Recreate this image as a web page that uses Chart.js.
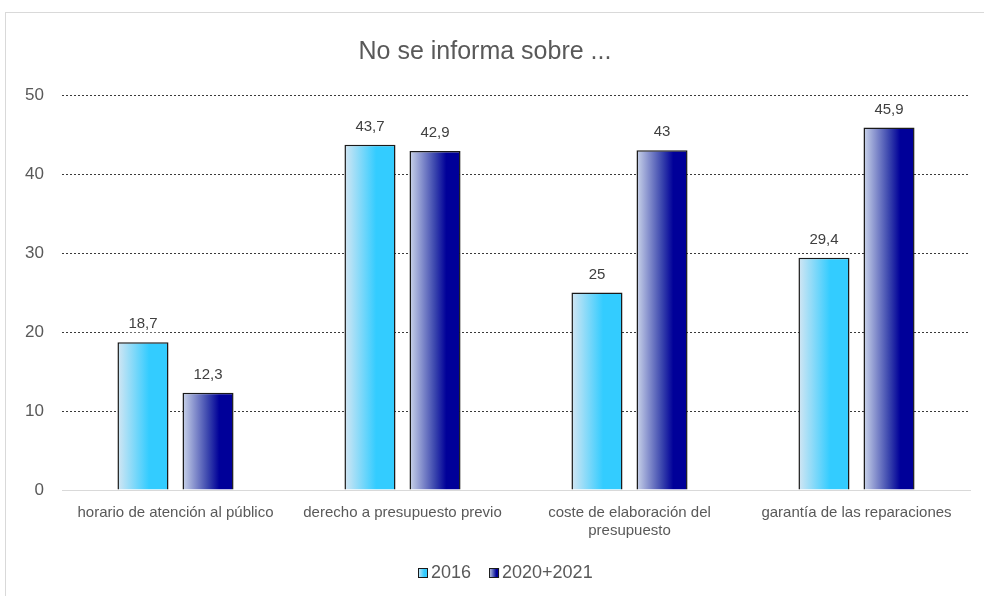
<!DOCTYPE html>
<html>
<head>
<meta charset="utf-8">
<script src="https://cdn.jsdelivr.net/npm/chart.js@4"></script>
<style>
  body { margin: 0; background: #fff; }
  #frame { position: absolute; left: 5px; top: 12px; width: 1000px; height: 600px; border: 1px solid #d9d9d9; }
  #wrap { position: absolute; left: 0; top: 0; width: 984px; height: 596px; }
</style>
</head>
<body>
<div id="frame"></div>
<div id="wrap"><canvas id="chart" width="984" height="596"></canvas></div>
<script>
const categories = [
    'horario de atención al público',
    'derecho a presupuesto previo',
    ['coste de elaboración del', 'presupuesto'],
    'garantía de las reparaciones'
];
const seriesNames = ['2016', '2020+2021'];
const values2016 = [18.7, 43.7, 25, 29.4];
const values2021 = [12.3, 42.9, 43, 45.9];
const yTicks = [0, 10, 20, 30, 40, 50];

const FONT = '"Liberation Sans", Arial, sans-serif';

// gradient stops per series: light left -> solid right
const gradients = [
    [['#d4e6f3', 0], ['#33ccff', 0.62], ['#33ccff', 1]],
    [['#cbd5ea', 0], ['#3a45ad', 0.5], ['#000099', 0.72], ['#000099', 1]]
];
const solidColors = ['#33ccff', '#000099'];

function makeGradient(ctx, x0, x1, di) {
    const g = ctx.createLinearGradient(x0, 0, x1, 0);
    gradients[di].forEach(s => g.addColorStop(s[1], s[0]));
    return g;
}

// backgroundColor is scriptable so every bar owns its options object,
// then each one gets its own gradient here
const gradientBars = {
    id: 'gradientBars',
    beforeDatasetsDraw(chart) {
        chart.data.datasets.forEach((ds, di) => {
            chart.getDatasetMeta(di).data.forEach(bar => {
                bar.options.backgroundColor = makeGradient(chart.ctx, bar.x - bar.width / 2, bar.x + bar.width / 2, di);
            });
        });
    }
};

const valueLabels = {
    id: 'valueLabels',
    afterDatasetsDraw(chart) {
        const ctx = chart.ctx;
        ctx.save();
        ctx.font = '15px ' + FONT;
        ctx.textAlign = 'center';
        ctx.textBaseline = 'middle';
        chart.data.datasets.forEach((ds, di) => {
            chart.getDatasetMeta(di).data.forEach((bar, i) => {
                const txt = String(ds.data[i]).replace('.', ',');
                const y = bar.y - 18;
                const w = ctx.measureText(txt).width;
                ctx.fillStyle = '#fff';
                ctx.fillRect(bar.x - w / 2 - 3, y - 8, w + 6, 16);
                ctx.fillStyle = '#404040';
                ctx.fillText(txt, bar.x, y);
            });
        });
        ctx.restore();
    }
};

// small legend at the bottom, swatches with the same gradients
const bottomLegend = {
    id: 'bottomLegend',
    afterDraw(chart) {
        const ctx = chart.ctx;
        ctx.save();
        ctx.font = '18px ' + FONT;
        ctx.textBaseline = 'middle';
        ctx.textAlign = 'left';
        const box = 10, gapText = 3, gapItem = 18, cy = 573;
        const widths = seriesNames.map(n => box + gapText + ctx.measureText(n).width);
        const total = widths.reduce((a, b) => a + b, 0) + gapItem * (seriesNames.length - 1);
        let x = Math.round(505 - total / 2);
        seriesNames.forEach((name, di) => {
            ctx.fillStyle = makeGradient(ctx, x, x + box, di);
            ctx.fillRect(x, cy - box / 2, box, box);
            ctx.strokeStyle = '#1a1a1a';
            ctx.lineWidth = 1;
            ctx.strokeRect(x + 0.5, cy - box / 2 + 0.5, box - 1, box - 1);
            ctx.fillStyle = '#595959';
            ctx.fillText(name, x + box + gapText, cy);
            x += widths[di] + gapItem;
        });
        ctx.restore();
    }
};

new Chart(document.getElementById('chart'), {
    type: 'bar',
    data: {
        labels: categories,
        datasets: [
            { label: seriesNames[0], data: values2016, backgroundColor: c => solidColors[0], borderColor: '#1a1a1a', borderWidth: 1.5, borderSkipped: 'bottom' },
            { label: seriesNames[1], data: values2021, backgroundColor: c => solidColors[1], borderColor: '#1a1a1a', borderWidth: 1.5, borderSkipped: 'bottom' }
        ]
    },
    options: {
        responsive: false,
        animation: false,
        categoryPercentage: 0.573,
        barPercentage: 0.785,
        layout: { padding: { left: 0, right: 14, top: 0, bottom: 43 } },
        plugins: {
            title: {
                display: true,
                text: 'No se informa sobre ...',
                color: '#595959',
                font: { size: 25, family: FONT, weight: 'normal' },
                padding: { top: 37, bottom: 28 }
            },
            legend: { display: false },
            tooltip: { enabled: false }
        },
        scales: {
            x: {
                grid: { display: false },
                border: { color: '#d9d9d9' },
                ticks: {
                    color: '#595959',
                    font: { size: 15, family: FONT },
                    padding: 6,
                    maxRotation: 0,
                    autoSkip: false
                },
                afterFit(scale) { scale.height = 63; }
            },
            y: {
                min: 0,
                max: 50,
                afterBuildTicks(scale) { scale.ticks = yTicks.map(v => ({ value: v })); },
                afterFit(scale) { scale.width = 62; },
                grid: {
                    drawTicks: false,
                    color: c => (c.tick && c.tick.value === 0) ? '#d9d9d9' : '#3a3a3a',
                    lineWidth: 1
                },
                border: {
                    display: false,
                    dash: c => (c.tick && c.tick.value === 0) ? [] : [2, 2]
                },
                ticks: {
                    color: '#595959',
                    font: { size: 17, family: FONT },
                    padding: 18
                }
            }
        }
    },
    plugins: [gradientBars, valueLabels, bottomLegend]
});
</script>
</body>
</html>
